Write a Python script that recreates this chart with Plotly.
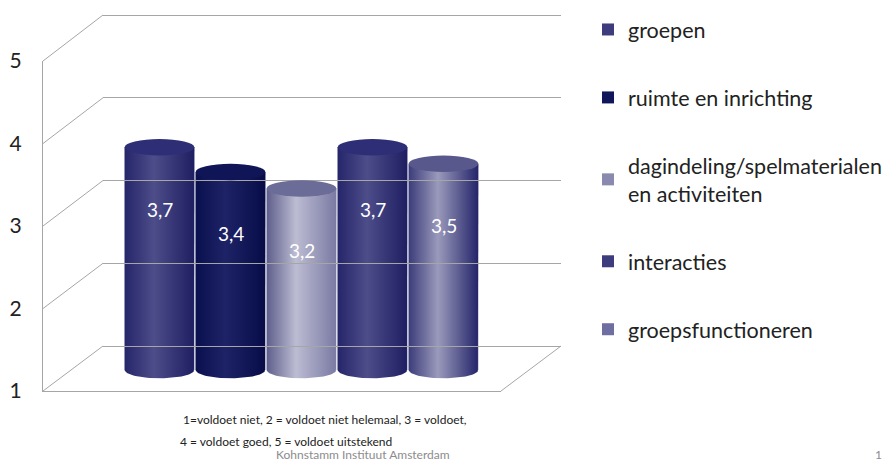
import numpy as np
import plotly.graph_objects as go

# ---------------- data ----------------
categories = ["groepen", "ruimte en inrichting",
              "dagindeling/spelmaterialen<br>en activiteiten",
              "interacties", "groepsfunctioneren"]
values = [3.7, 3.4, 3.2, 3.7, 3.5]
y_ticks = [1, 2, 3, 4, 5]
footer_line1 = "1=voldoet niet, 2 = voldoet niet helemaal, 3 = voldoet,"
footer_line2 = "4 = voldoet goed, 5 = voldoet uitstekend"
source_text = "Kohnstamm Instituut Amsterdam"
page_number = "1"

# ---------------- styles ----------------
legend_colors = ["#3d3d7d", "#10165a", "#8a8aae", "#3d3d7d", "#6e6ea0"]
edge_left = ["#25256a", "#0a0f4e", "#5e5e8c", "#25256a", "#3c3c7a"]
highlight = ["#4d4d8a", "#1d2366", "#bcbcd2", "#4d4d8a", "#9a9abc"]
edge_right = ["#1e1e62", "#070c48", "#7a7aa4", "#1e1e62", "#24246a"]
cap_colors = ["#2e2e76", "#0f1556", "#6c6c98", "#2e2e76", "#58588c"]

W, H = 894, 464
OFF = 8  # page margin offset of the rendered figure
FONT = "Lato"


def fy(px):
    return (H - (px - OFF)) / H


def fx(px):
    return (px - OFF) / W


# pixel geometry of the pseudo-3D box (screen coordinates)
bar_base_px, bar_top_px = 370.0, 40.0          # value 1 and 5 at mid-depth
unit_px = (bar_base_px - bar_top_px) / 4
y_lo = 0.85
bar_dom = [fy(bar_base_px + (1 - y_lo) * unit_px), fy(bar_top_px)]

back_lo_px, back_hi_px = 346.0, 15.0
back_unit = (back_lo_px - back_hi_px) / 4
pad = 0.05
back_dom = [fy(back_lo_px + pad * back_unit), fy(back_hi_px - pad * back_unit)]
front_dom = [fy(391), fy(61)]
back_x = [fx(103), fx(561)]
front_x = [fx(43), fx(501)]
bars_x = [fx(124), fx(479)]

hw = 0.49   # half width of cylinder in category units
b = 0.10    # half height of ellipses in value units

fig = go.Figure()

# bar traces (legend + main marks)
for i, (cat, v) in enumerate(zip(categories, values)):
    fig.add_trace(go.Bar(
        x=[i], y=[v - 1], base=1, width=2 * hw,
        name=cat, legendgroup=f"g{i}",
        marker=dict(color=legend_colors[i], line=dict(width=0)),
        xaxis="x", yaxis="y", hoverinfo="skip",
    ))

# shaded cylinder bodies drawn over the bars
t = np.linspace(0, np.pi, 40)
for i, v in enumerate(values):
    xs = [i - hw, i - hw, i + hw, i + hw] + list(i + hw * np.cos(t))
    ys = [1, v, v, 1] + list(1 - b * np.sin(t))
    fig.add_trace(go.Scatter(
        x=xs, y=ys, mode="lines", fill="toself", line=dict(width=0),
        fillgradient=dict(type="horizontal",
                          colorscale=[[0, edge_left[i]], [0.42, highlight[i]],
                                      [1, edge_right[i]]]),
        showlegend=False, hoverinfo="skip", xaxis="x", yaxis="y",
    ))

# empty traces so back wall and front axes exist
fig.add_trace(go.Scatter(x=[], y=[], xaxis="x2", yaxis="y2", showlegend=False))
fig.add_trace(go.Scatter(x=[], y=[], xaxis="x3", yaxis="y3", showlegend=False))

shapes = []
# cylinder caps
for i, v in enumerate(values):
    shapes.append(dict(type="circle", xref="x", yref="y",
                       x0=i - hw, x1=i + hw, y0=v - b, y1=v + b,
                       fillcolor=cap_colors[i], line=dict(width=0), layer="above"))

# diagonal side-wall lines
grid_col = "#a6a6a6"
fspan = front_dom[1] - front_dom[0]
bspan_px = back_lo_px - back_hi_px
for tv in y_ticks:
    yf = front_dom[0] + (tv - 1) / 4 * fspan
    yb = fy(back_lo_px - (tv - 1) / 4 * bspan_px)
    shapes.append(dict(type="line", xref="paper", yref="paper",
                       x0=front_x[0], y0=yf, x1=back_x[0], y1=yb,
                       line=dict(color=grid_col, width=1), layer="below"))
# floor right edge
shapes.append(dict(type="line", xref="paper", yref="paper",
                   x0=front_x[1], y0=front_dom[0], x1=back_x[1], y1=fy(back_lo_px),
                   line=dict(color=grid_col, width=1), layer="below"))

annotations = []
for i, v in enumerate(values):
    annotations.append(dict(
        x=i, y=v - 0.75, xref="x", yref="y", showarrow=False,
        text=f"{v:.1f}".replace(".", ","),
        font=dict(family=FONT, size=19, color="white")))

annotations += [
    dict(x=fx(181), y=fy(429), xref="paper", yref="paper", showarrow=False,
         text=footer_line1, font=dict(family=FONT, size=12, color="#222222")),
    dict(x=fx(178), y=fy(451), xref="paper", yref="paper", showarrow=False,
         text=footer_line2, font=dict(family=FONT, size=12, color="#222222")),
    dict(x=fx(363), y=fy(464), xref="paper", yref="paper", showarrow=False,
         text=source_text, font=dict(family=FONT, size=12, color="#8c8c8c")),
    dict(x=fx(884), y=fy(464), xref="paper", yref="paper", showarrow=False,
         text=page_number, font=dict(family=FONT, size=12, color="#8c8c8c")),
]

fig.update_layout(
    width=W, height=H,
    margin=dict(l=0, r=0, t=0, b=0, autoexpand=False),
    paper_bgcolor="white", plot_bgcolor="rgba(0,0,0,0)",
    barmode="overlay",
    showlegend=True,
    legend=dict(x=fx(588), y=fy(9), xanchor="left", yanchor="top",
                font=dict(family=FONT, size=21.5, color="#222222"),
                traceorder="grouped", tracegroupgap=37,
                bgcolor="rgba(0,0,0,0)"),
    xaxis=dict(domain=bars_x, range=[-0.5, 4.5], visible=False, anchor="y"),
    yaxis=dict(domain=bar_dom, range=[y_lo, 5], visible=False, anchor="x"),
    xaxis2=dict(domain=back_x, range=[0, 1], visible=False, anchor="y2"),
    yaxis2=dict(domain=back_dom, range=[1 - pad, 5 + pad], anchor="x2",
                tickvals=y_ticks, showticklabels=False, ticks="",
                showgrid=True, gridcolor=grid_col, gridwidth=1,
                zeroline=False, showline=False),
    xaxis3=dict(domain=front_x, range=[0, 1], anchor="y3",
                showline=True, linecolor=grid_col, linewidth=1,
                showgrid=False, zeroline=False, showticklabels=False, ticks=""),
    yaxis3=dict(domain=front_dom, range=[1, 5], anchor="x3",
                tickvals=y_ticks, ticktext=[str(v) for v in y_ticks],
                showline=True, linecolor=grid_col, linewidth=1,
                showgrid=False, zeroline=False, ticks="",
                ticklabelstandoff=16,
                tickfont=dict(family=FONT, size=21, color="#222222")),
    shapes=shapes,
    annotations=annotations,
)

fig.write_html("out.html")
